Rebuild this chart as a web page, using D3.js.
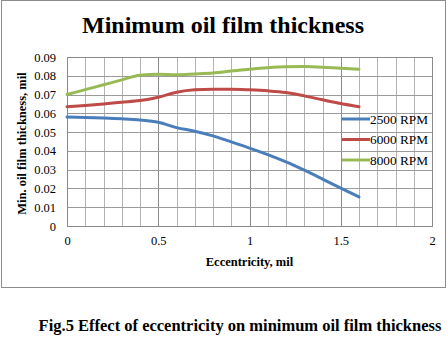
<!DOCTYPE html>
<html>
<head>
<meta charset="utf-8">
<script src="https://cdn.jsdelivr.net/npm/d3@7"></script>
<style>
  html, body { margin: 0; padding: 0; background: #fff; }
  svg { display: block; }
  svg text { font-family: "Liberation Serif", "Times New Roman", Times, "DejaVu Serif", serif; }
</style>
</head>
<body>
<svg id="chart" width="447" height="344"></svg>
<script>
// Eccentricity (mil) sampled along the x axis
const eccentricity = [0, 0.1, 0.2, 0.3, 0.4, 0.5, 0.6, 0.7, 0.8, 0.9, 1.0, 1.1, 1.2, 1.3, 1.4, 1.5, 1.6];

// Minimum oil film thickness (mil) per shaft speed
const rpm2500 = [0.058, 0.0578, 0.0575, 0.0571, 0.0565, 0.0553, 0.0524, 0.0505, 0.048, 0.0448, 0.0415, 0.038, 0.0341, 0.0297, 0.025, 0.0202, 0.0155];
const rpm6000 = [0.0635, 0.0642, 0.065, 0.0659, 0.0668, 0.0686, 0.0712, 0.0725, 0.0728, 0.0728, 0.0725, 0.072, 0.0711, 0.0693, 0.0672, 0.0652, 0.0635];
const rpm8000 = [0.070, 0.0726, 0.0752, 0.0778, 0.0803, 0.0808, 0.0806, 0.081, 0.0815, 0.0825, 0.0835, 0.0843, 0.0848, 0.0849, 0.0846, 0.084, 0.0835];

const seriesNames = ["2500 RPM", "6000 RPM", "8000 RPM"];
const seriesColors = ["#4A7EBB", "#BE4B48", "#98B954"];

const xTicks = [0, 0.5, 1, 1.5, 2];
const yTicks = [0, 0.01, 0.02, 0.03, 0.04, 0.05, 0.06, 0.07, 0.08, 0.09];

const series = [rpm2500, rpm6000, rpm8000].map((vals, i) => ({
  name: seriesNames[i],
  color: seriesColors[i],
  points: eccentricity.map((e, j) => [e, vals[j]])
}));

const svg = d3.select("#chart");
const plot = { left: 67, right: 432, top: 57, bottom: 226 };

const x = d3.scaleLinear().domain([0, 2]).range([plot.left, plot.right]);
const y = d3.scaleLinear().domain([0, 0.09]).range([plot.bottom, plot.top]);

// Outer chart frame
svg.append("rect")
  .attr("x", 1.5).attr("y", 0.5)
  .attr("width", 444).attr("height", 287)
  .attr("fill", "#fff").attr("stroke", "#8c8c8c").attr("stroke-width", 1);

// Title
svg.append("text")
  .attr("x", 223).attr("y", 33)
  .attr("text-anchor", "middle")
  .attr("font-weight", "bold")
  .attr("font-size", 24)
  .attr("fill", "#000")
  .text("Minimum oil film thickness");

// Grid: minor vertical lines every 0.1, major every 0.5
const grid = svg.append("g");
d3.range(0, 2.0001, 0.1).forEach(v => {
  const major = Math.abs(v / 0.5 - Math.round(v / 0.5)) < 1e-6;
  grid.append("line")
    .attr("x1", Math.round(x(v)) + 0.5).attr("x2", Math.round(x(v)) + 0.5)
    .attr("y1", plot.top).attr("y2", plot.bottom)
    .attr("stroke", major ? "#8a8a8a" : "#b4b4b4").attr("stroke-width", 1);
});
yTicks.forEach(v => {
  grid.append("line")
    .attr("x1", plot.left).attr("x2", plot.right)
    .attr("y1", Math.round(y(v)) + 0.5).attr("y2", Math.round(y(v)) + 0.5)
    .attr("stroke", "#9a9a9a").attr("stroke-width", 1);
});
grid.append("rect")
  .attr("x", plot.left + 0.5).attr("y", plot.top + 0.5)
  .attr("width", plot.right - plot.left).attr("height", plot.bottom - plot.top)
  .attr("fill", "none").attr("stroke", "#8a8a8a");

// Axes (labels only; lines come from the grid)
const yAxis = svg.append("g")
  .attr("transform", `translate(${plot.left},0)`)
  .call(d3.axisLeft(y).tickValues(yTicks).tickSize(0).tickPadding(11)
    .tickFormat(d => d === 0 ? "0" : d3.format(".2f")(d)));
yAxis.attr("font-family", null);
yAxis.select(".domain").remove();
yAxis.selectAll("text").attr("font-size", 12.5).attr("fill", "#000");

const xAxis = svg.append("g")
  .attr("transform", `translate(0,${plot.bottom})`)
  .call(d3.axisBottom(x).tickValues(xTicks).tickSize(0).tickPadding(10)
    .tickFormat(d3.format("")));
xAxis.attr("font-family", null);
xAxis.select(".domain").remove();
xAxis.selectAll("text").attr("font-size", 12.5).attr("fill", "#000");

// Axis titles
svg.append("text")
  .attr("x", (plot.left + plot.right) / 2).attr("y", 266)
  .attr("text-anchor", "middle")
  .attr("font-weight", "bold").attr("font-size", 12.5)
  .text("Eccentricity,  mil");

svg.append("text")
  .attr("transform", `translate(26,${(plot.top + plot.bottom) / 2 + 2}) rotate(-90)`)
  .attr("text-anchor", "middle")
  .attr("font-weight", "bold").attr("font-size", 12.5)
  .text("Min. oil film thickness, mil");

// Series lines
const line = d3.line()
  .x(d => x(d[0])).y(d => y(d[1]))
  .curve(d3.curveMonotoneX);

svg.append("g").selectAll("path")
  .data(series)
  .join("path")
  .attr("d", d => line(d.points))
  .attr("fill", "none")
  .attr("stroke", d => d.color)
  .attr("stroke-width", 3)
  .attr("stroke-linecap", "round");

// Legend
const legend = svg.append("g").attr("transform", "translate(342,119)");
series.forEach((s, i) => {
  const g = legend.append("g").attr("transform", `translate(0,${i * 20.5})`);
  g.append("line").attr("x1", 0).attr("x2", 28).attr("y1", 0).attr("y2", 0)
    .attr("stroke", s.color).attr("stroke-width", 3);
  g.append("text").attr("x", 28).attr("y", 4.8)
    .attr("font-size", 13.3).attr("fill", "#000")
    .text(s.name);
});

// Figure caption
svg.append("text")
  .attr("x", 240).attr("y", 331)
  .attr("text-anchor", "middle")
  .attr("font-weight", "bold").attr("font-size", 16.5)
  .text("Fig.5 Effect of eccentricity on minimum oil film thickness");
</script>
</body>
</html>
